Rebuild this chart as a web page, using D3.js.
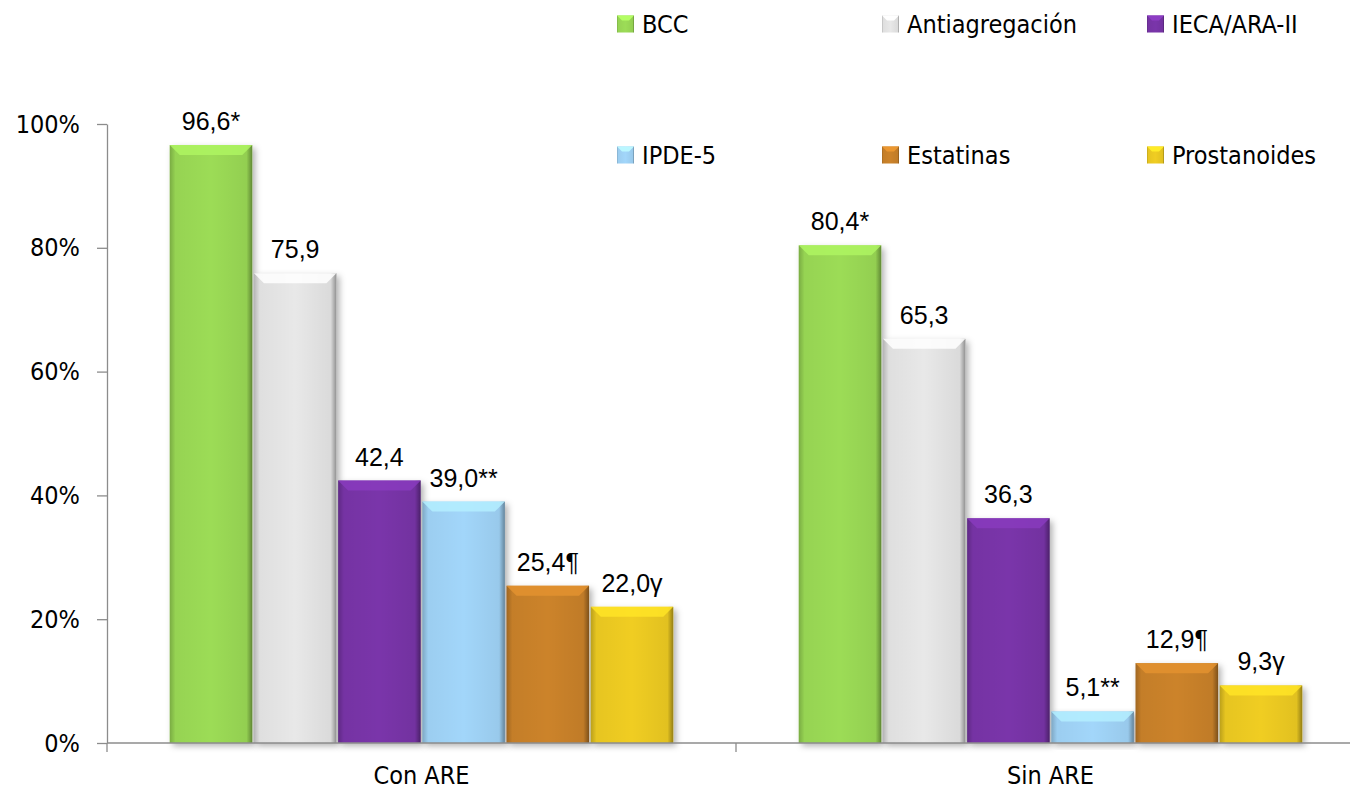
<!DOCTYPE html>
<html>
<head>
<meta charset="utf-8">
<script src="https://cdn.jsdelivr.net/npm/d3@7"></script>
<style>
  html, body { margin: 0; padding: 0; background: #ffffff; }
  svg { display: block; }
</style>
</head>
<body>
<svg id="chart" width="1350" height="792"></svg>
<script>
// Data
const categories = ["Con ARE", "Sin ARE"];
const series = ["BCC", "Antiagregación", "IECA/ARA-II", "IPDE-5", "Estatinas", "Prostanoides"];
const conARE = [96.6, 75.9, 42.4, 39.0, 25.4, 22.0];
const sinARE = [80.4, 65.3, 36.3, 5.1, 12.9, 9.3];
const conMarks = ["*", "", "", "**", "¶", "γ"];
const sinMarks = ["*", "", "", "**", "¶", "γ"];
const yTicks = [0, 20, 40, 60, 80, 100];
const colors = ["#9cdc57", "#e8e8e8", "#7a35aa", "#a2d6fa", "#cc832a", "#f0cd22"];

const table = [
  { cat: categories[0], values: conARE, marks: conMarks },
  { cat: categories[1], values: sinARE, marks: sinMarks }
];

const axisFont = "DejaVu Sans Condensed, DejaVu Sans, sans-serif";

const svg = d3.select("#chart");
const defs = svg.append("defs");

// Soft shadow under each bar
const shadow = defs.append("filter").attr("id", "barShadow")
  .attr("x", "-10%").attr("y", "-10%").attr("width", "130%").attr("height", "130%");
shadow.append("feDropShadow").attr("dx", 3).attr("dy", 3)
  .attr("stdDeviation", 3).attr("flood-color", "#000").attr("flood-opacity", 0.3);

// Darkened side edges of the bevelled bars
const side = defs.append("linearGradient").attr("id", "sideShade")
  .attr("x1", "0").attr("x2", "1").attr("y1", "0").attr("y2", "0");
[[0, 0.22], [0.07, 0.04], [0.5, 0], [0.93, 0.06], [1, 0.38]].forEach(([o, a]) =>
  side.append("stop").attr("offset", o).attr("stop-color", "#000").attr("stop-opacity", a));

const y = d3.scaleLinear().domain([0, 100]).range([743, 124]);
const x0 = d3.scaleBand().domain(categories).range([107, 1365]);
const x1 = d3.scaleBand().domain(series).range([0, x0.bandwidth()])
  .paddingOuter(0.745).paddingInner(0.02);

const fmt = v => d3.format(".1f")(v).replace(".", ",");

// Y axis
const yAxis = svg.append("g").attr("transform", "translate(107,0)")
  .call(d3.axisLeft(y).tickValues(yTicks).tickFormat(d => d + "%")
    .tickSize(10).tickSizeOuter(0).tickPadding(17));
yAxis.select(".domain").attr("stroke", "#8c8c8c").attr("stroke-width", 1.3);
yAxis.selectAll(".tick line").attr("stroke", "#8c8c8c").attr("stroke-width", 1.3);
yAxis.selectAll(".tick text").attr("font-family", axisFont)
  .attr("font-size", 25).attr("fill", "#000");

// Bars
const bevel = 10;
const groups = svg.append("g").selectAll("g").data(table).join("g")
  .attr("transform", d => `translate(${x0(d.cat)},0)`);

const bars = groups.selectAll("g.bar")
  .data(d => d.values.map((v, i) => ({ name: series[i], v, mark: d.marks[i], color: colors[i] })))
  .join("g").attr("class", "bar");

bars.append("rect")
  .attr("x", d => x1(d.name)).attr("y", d => y(d.v))
  .attr("width", x1.bandwidth()).attr("height", d => y(0) - y(d.v))
  .attr("fill", d => d.color).attr("filter", "url(#barShadow)");

bars.append("rect")
  .attr("x", d => x1(d.name)).attr("y", d => y(d.v))
  .attr("width", x1.bandwidth()).attr("height", d => y(0) - y(d.v))
  .attr("fill", "url(#sideShade)");

// Lighter top bevel
bars.append("path")
  .attr("d", d => {
    const xl = x1(d.name), xr = xl + x1.bandwidth(), t = y(d.v);
    const b = Math.min(bevel, (y(0) - t) / 2);
    return `M${xl},${t}L${xr},${t}L${xr - b},${t + b}L${xl + b},${t + b}Z`;
  })
  .attr("fill", d => d3.color(d.color).brighter(0.3))
  .attr("opacity", 0.85);

// Value labels
bars.append("text")
  .attr("x", d => x1(d.name) + x1.bandwidth() / 2)
  .attr("y", d => y(d.v) - 15)
  .attr("text-anchor", "middle")
  .attr("font-family", "Liberation Sans, Arial, sans-serif")
  .attr("font-size", 25).attr("fill", "#000")
  .text(d => fmt(d.v) + d.mark);

// X axis
const xAxisG = svg.append("g");
xAxisG.append("line")
  .attr("x1", x0.range()[0]).attr("x2", x0.range()[1])
  .attr("y1", y(0)).attr("y2", y(0))
  .attr("stroke", "#8c8c8c").attr("stroke-width", 1.3);
xAxisG.selectAll("line.tick").data(categories).join("line").attr("class", "tick")
  .attr("x1", d => x0(d)).attr("x2", d => x0(d))
  .attr("y1", y(0)).attr("y2", y(0) + 9)
  .attr("stroke", "#8c8c8c").attr("stroke-width", 1.3);
xAxisG.selectAll("text").data(categories).join("text")
  .attr("x", d => x0(d) + x0.bandwidth() / 2)
  .attr("y", 784)
  .attr("text-anchor", "middle")
  .attr("font-family", axisFont)
  .attr("font-size", 25).attr("fill", "#000")
  .text(d => d);

// Legend
const legendX = [617, 882, 1147];
const legendY = [24, 155];
const sw = 17;
const legend = svg.append("g").selectAll("g").data(series).join("g")
  .attr("transform", (d, i) => `translate(${legendX[i % 3]},${legendY[Math.floor(i / 3)]})`);
legend.append("rect").attr("x", 0).attr("y", -sw / 2).attr("width", sw).attr("height", sw)
  .attr("fill", (d, i) => colors[i]);
legend.append("rect").attr("x", 0).attr("y", -sw / 2).attr("width", sw).attr("height", sw)
  .attr("fill", "url(#sideShade)");
legend.append("path")
  .attr("d", `M0,${-sw / 2}L${sw},${-sw / 2}L${sw - 5},${-sw / 2 + 5}L5,${-sw / 2 + 5}Z`)
  .attr("fill", (d, i) => d3.color(colors[i]).brighter(0.4));
legend.append("text").attr("x", 25).attr("y", 0).attr("dy", "0.35em")
  .attr("font-family", axisFont)
  .attr("font-size", 25).attr("fill", "#000")
  .text(d => d);
</script>
</body>
</html>
